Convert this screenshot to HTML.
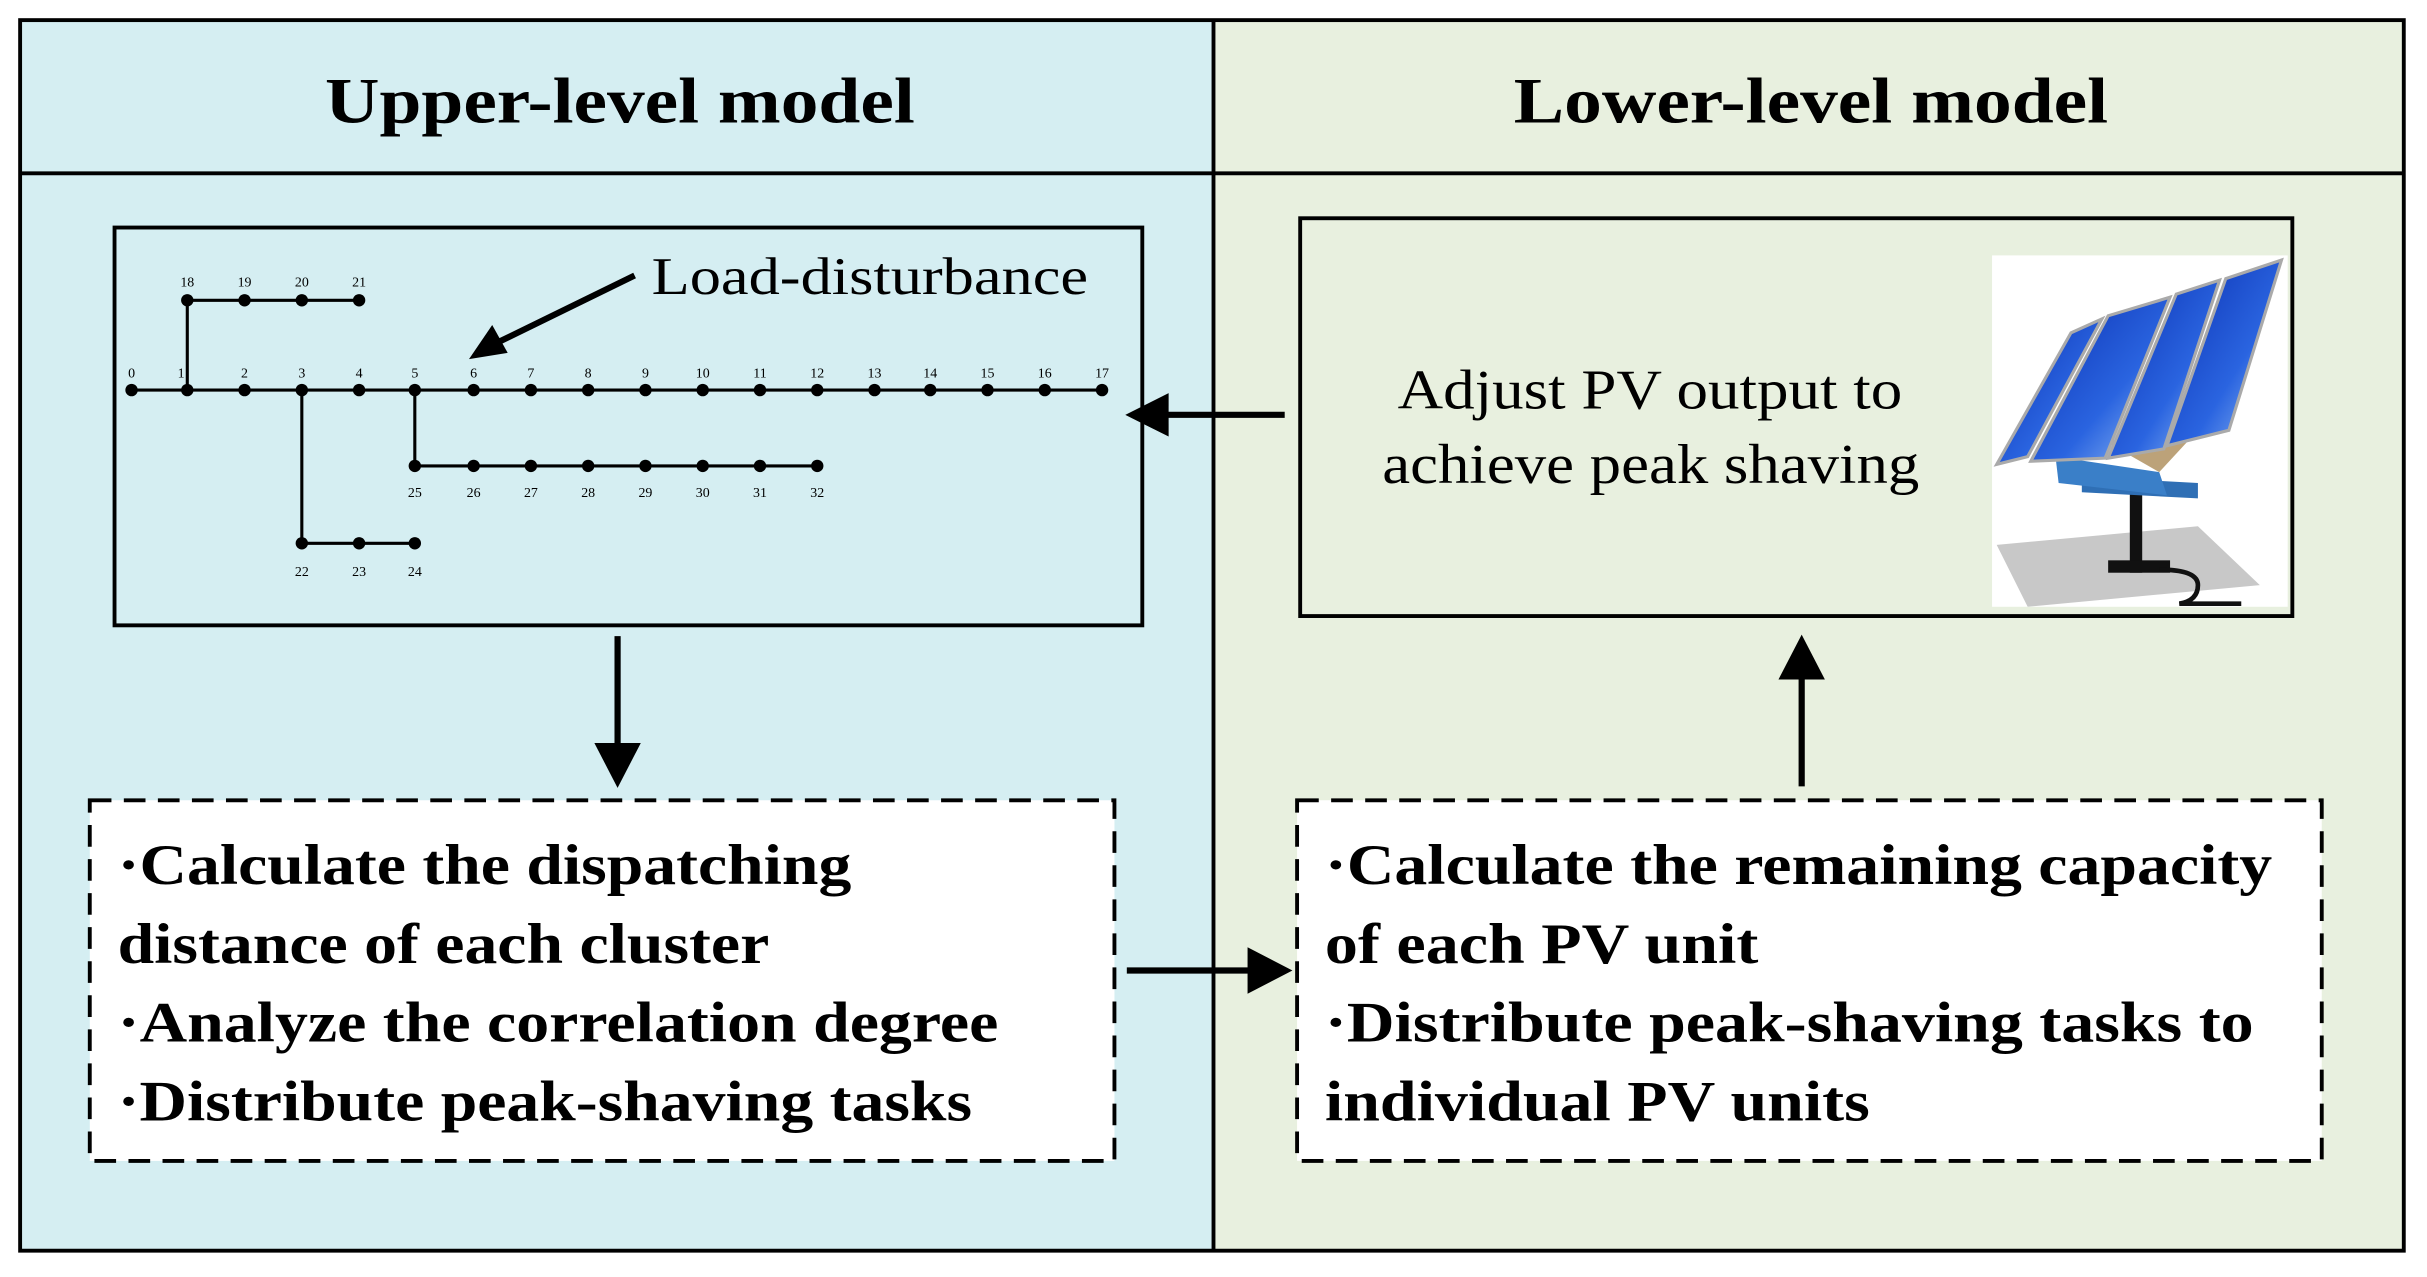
<!DOCTYPE html>
<html><head><meta charset="utf-8"><style>html,body{margin:0;padding:0;background:#fff}svg{display:block}</style></head>
<body>
<svg width="2427" height="1277" viewBox="0 0 1568 825" preserveAspectRatio="none" xmlns="http://www.w3.org/2000/svg" font-family="Liberation Serif, serif">
<defs>
<linearGradient id="pv" x1="0" y1="0" x2="1" y2="1"><stop offset="0" stop-color="#0a2fb0"/><stop offset="0.6" stop-color="#2a64e0"/><stop offset="1" stop-color="#9cc4f5"/></linearGradient>
</defs>
<rect x="0" y="0" width="1568" height="825" fill="#fff"/>
<rect x="13" y="13" width="771" height="795" fill="#d5eef2"/>
<rect x="784" y="13" width="769" height="795" fill="#e8f0df"/>
<rect x="13" y="13" width="1540" height="795" fill="none" stroke="#000" stroke-width="2.5"/>
<line x1="784" y1="13" x2="784" y2="808" stroke="#000" stroke-width="2.5"/>
<line x1="13" y1="112" x2="1553" y2="112" stroke="#000" stroke-width="2.5"/>
<text x="210" y="79" font-size="42" font-weight="bold" textLength="381" lengthAdjust="spacingAndGlyphs">Upper-level model</text>
<text x="978" y="79" font-size="42" font-weight="bold" textLength="384" lengthAdjust="spacingAndGlyphs">Lower-level model</text>

<rect x="74" y="147" width="664" height="257" fill="none" stroke="#000" stroke-width="2.5"/>
<g stroke="#000" stroke-width="2">
<line x1="85" y1="252" x2="712" y2="252"/>
<line x1="121" y1="252" x2="121" y2="194"/><line x1="121" y1="194" x2="232" y2="194"/>
<line x1="268" y1="252" x2="268" y2="301"/><line x1="268" y1="301" x2="528" y2="301"/>
<line x1="195" y1="252" x2="195" y2="351"/><line x1="195" y1="351" x2="268" y2="351"/>
</g>
<g fill="#000">
<circle cx="85" cy="252" r="4"/><circle cx="121" cy="252" r="4"/><circle cx="158" cy="252" r="4"/><circle cx="195" cy="252" r="4"/><circle cx="232" cy="252" r="4"/><circle cx="268" cy="252" r="4"/><circle cx="306" cy="252" r="4"/><circle cx="343" cy="252" r="4"/><circle cx="380" cy="252" r="4"/><circle cx="417" cy="252" r="4"/><circle cx="454" cy="252" r="4"/><circle cx="491" cy="252" r="4"/><circle cx="528" cy="252" r="4"/><circle cx="565" cy="252" r="4"/><circle cx="601" cy="252" r="4"/><circle cx="638" cy="252" r="4"/><circle cx="675" cy="252" r="4"/><circle cx="712" cy="252" r="4"/>
<circle cx="121" cy="194" r="4"/><circle cx="158" cy="194" r="4"/><circle cx="195" cy="194" r="4"/><circle cx="232" cy="194" r="4"/>
<circle cx="268" cy="301" r="4"/><circle cx="306" cy="301" r="4"/><circle cx="343" cy="301" r="4"/><circle cx="380" cy="301" r="4"/><circle cx="417" cy="301" r="4"/><circle cx="454" cy="301" r="4"/><circle cx="491" cy="301" r="4"/><circle cx="528" cy="301" r="4"/>
<circle cx="195" cy="351" r="4"/><circle cx="232" cy="351" r="4"/><circle cx="268" cy="351" r="4"/>
</g>
<g font-size="9" text-anchor="middle">
<text x="85" y="244">0</text><text x="117" y="244">1</text><text x="158" y="244">2</text><text x="195" y="244">3</text><text x="232" y="244">4</text><text x="268" y="244">5</text><text x="306" y="244">6</text><text x="343" y="244">7</text><text x="380" y="244">8</text><text x="417" y="244">9</text><text x="454" y="244">10</text><text x="491" y="244">11</text><text x="528" y="244">12</text><text x="565" y="244">13</text><text x="601" y="244">14</text><text x="638" y="244">15</text><text x="675" y="244">16</text><text x="712" y="244">17</text>
<text x="121" y="185">18</text><text x="158" y="185">19</text><text x="195" y="185">20</text><text x="232" y="185">21</text>
<text x="268" y="321">25</text><text x="306" y="321">26</text><text x="343" y="321">27</text><text x="380" y="321">28</text><text x="417" y="321">29</text><text x="454" y="321">30</text><text x="491" y="321">31</text><text x="528" y="321">32</text>
<text x="195" y="372">22</text><text x="232" y="372">23</text><text x="268" y="372">24</text>
</g>
<text x="421" y="190" font-size="34" textLength="282" lengthAdjust="spacingAndGlyphs">Load-disturbance</text>
<line x1="410" y1="178" x2="322" y2="221" stroke="#000" stroke-width="4"/>
<polygon points="303,232 318,210 328,228" fill="#000"/>

<rect x="840" y="141" width="641" height="257" fill="none" stroke="#000" stroke-width="2.5"/>
<text x="903" y="264" font-size="36" textLength="326" lengthAdjust="spacingAndGlyphs">Adjust PV output to</text>
<text x="893" y="312" font-size="36" textLength="347" lengthAdjust="spacingAndGlyphs">achieve peak shaving</text>
<rect x="1287" y="165" width="191" height="227" fill="#fff"/>
<polygon points="1290,352 1420,340 1460,378 1310,392" fill="#c8c8c8"/>
<rect x="1376" y="310" width="8" height="60" fill="#111"/>
<rect x="1362" y="362" width="40" height="8" fill="#111"/>
<path d="M1395,368 q25,0 25,10 q0,10 -12,12 l40,0" stroke="#111" stroke-width="3" fill="none"/>
<polygon points="1345,308 1420,312 1420,322 1345,318" fill="#2f6fb5"/>
<polygon points="1328,295 1395,305 1400,320 1330,312" fill="#3a7fc8"/>
<polygon points="1360,285 1420,278 1395,305" fill="#a07a40" opacity="0.7"/>
<polygon points="1290,300 1338,215 1358,206 1310,295" fill="url(#pv)" stroke="#aaa" stroke-width="2"/>
<polygon points="1312,298 1362,204 1402,192 1360,296" fill="url(#pv)" stroke="#aaa" stroke-width="2"/>
<polygon points="1362,296 1406,190 1434,181 1398,290" fill="url(#pv)" stroke="#aaa" stroke-width="2"/>
<polygon points="1400,288 1438,180 1474,168 1440,278" fill="url(#pv)" stroke="#aaa" stroke-width="2"/>

<line x1="830" y1="268" x2="750" y2="268" stroke="#000" stroke-width="4"/>
<polygon points="727,268 755,254 755,282" fill="#000"/>
<line x1="399" y1="411" x2="399" y2="485" stroke="#000" stroke-width="4"/>
<polygon points="399,509 384,480 414,480" fill="#000"/>
<line x1="1164" y1="508" x2="1164" y2="435" stroke="#000" stroke-width="4"/>
<polygon points="1164,410 1149,439 1179,439" fill="#000"/>
<line x1="728" y1="627" x2="810" y2="627" stroke="#000" stroke-width="4"/>
<polygon points="835,627 806,612 806,642" fill="#000"/>

<rect x="58" y="517" width="662" height="233" fill="#fff" stroke="#000" stroke-width="2.5" stroke-dasharray="14,8"/>
<rect x="838" y="517" width="662" height="233" fill="#fff" stroke="#000" stroke-width="2.5" stroke-dasharray="14,8"/>
<g font-size="37" font-weight="bold">
<text x="76" y="571" textLength="474" lengthAdjust="spacingAndGlyphs">·Calculate the dispatching</text>
<text x="76" y="622" textLength="421" lengthAdjust="spacingAndGlyphs">distance of each cluster</text>
<text x="76" y="673" textLength="569" lengthAdjust="spacingAndGlyphs">·Analyze the correlation degree</text>
<text x="76" y="724" textLength="552" lengthAdjust="spacingAndGlyphs">·Distribute peak-shaving tasks</text>
<text x="856" y="571" textLength="612" lengthAdjust="spacingAndGlyphs">·Calculate the remaining capacity</text>
<text x="856" y="622" textLength="280" lengthAdjust="spacingAndGlyphs">of each PV unit</text>
<text x="856" y="673" textLength="600" lengthAdjust="spacingAndGlyphs">·Distribute peak-shaving tasks to</text>
<text x="856" y="724" textLength="352" lengthAdjust="spacingAndGlyphs">individual PV units</text>
</g>
</svg>
</body></html>
